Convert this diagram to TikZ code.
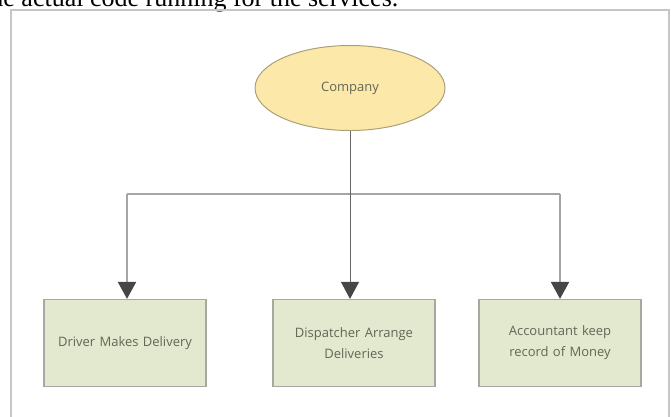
\documentclass[tikz,border=0pt]{standalone}
\usepackage{fontspec}
\setmainfont{Liberation Serif}
\newfontfamily\boxfont{Open Sans}
\usetikzlibrary{shapes.geometric,arrows.meta}

\definecolor{ovalfill}{RGB}{252,233,170}
\definecolor{ovaldraw}{RGB}{170,160,120}
\definecolor{boxfill}{RGB}{226,233,207}
\definecolor{boxdraw}{RGB}{165,170,160}
\definecolor{labeltext}{RGB}{100,102,85}
\definecolor{linegray}{RGB}{165,165,165}
\definecolor{tipgray}{RGB}{70,70,70}

\tikzset{
    oval/.style = {ellipse, draw=ovaldraw, fill=ovalfill, line width=1pt,
                   minimum width=190pt, minimum height=85pt, inner sep=0pt,
                   font=\boxfont\fontsize{13}{16}\selectfont, text=labeltext},
    task/.style = {rectangle, draw=boxdraw, fill=boxfill, line width=1.2pt,
                   minimum width=162pt, minimum height=87pt, inner sep=0pt,
                   text width=150pt, align=center,
                   font=\boxfont\fontsize{13}{21}\selectfont, text=labeltext},
    branch/.style = {draw=linegray, line width=2pt},
    stem/.style = {draw=black!60, line width=1pt},
    tip/.style = {-{Triangle[width=18pt,length=17pt,color=tipgray]}},
}

\begin{document}
\begin{tikzpicture}[x=1pt, y=-1pt]
    \useasboundingbox (0,0) rectangle (671,416);
    \clip (0,0) rectangle (671,416);

%Page text and frame
    \node[anchor=base west, font=\fontsize{26}{30}\selectfont, inner sep=0pt] (pagetext) at (-17,6) {the actual code running for the services.};
    \draw[gray!45, line width=1.2pt] (11,420) -- (11,10) -- (669,10) -- (669,420);

%Company and tasks
    \node[oval] (comp) at (350,88) {Company};

    \node[task] (driver) at (125,343) {Driver Makes Delivery};
    \node[task] (dispatch) at (354,343) {Dispatcher Arrange\\Deliveries};
    \node[task] (account) at (560,343) {Accountant keep\\record of Money};

%Connectors
    \coordinate (left) at (127,194);
    \coordinate (right) at (560,194);
    \draw[branch] (left) -- (right);
    \draw[branch, tip] (left) -- (left |- driver.north);
    \draw[branch, tip] (right) -- (account.north);
    \draw[stem, tip] (comp.south) -- (comp.south |- dispatch.north);

\end{tikzpicture}
\end{document}
